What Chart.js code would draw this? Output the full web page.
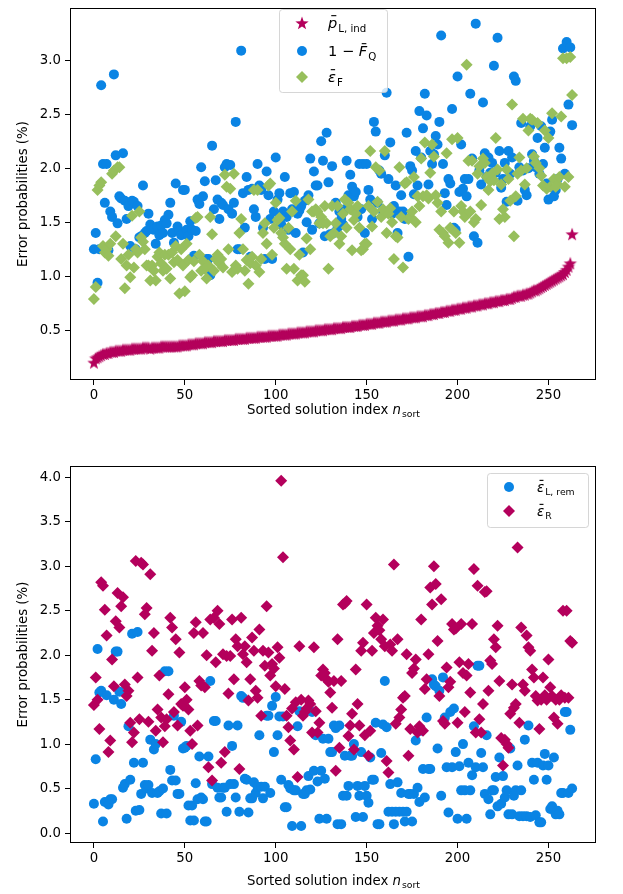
<!DOCTYPE html>
<html>
<head>
<meta charset="utf-8">
<script src="https://cdn.jsdelivr.net/npm/chart.js@4.4.0/dist/chart.umd.min.js"></script>
<style>
  html, body { margin: 0; padding: 0; background: #fff; }
  #wrap { position: relative; width: 623px; height: 894px; }
  canvas { position: absolute; left: 0; }
  #topChart { top: 0; }
  #bottomChart { top: 440px; }
</style>
</head>
<body>
<div id="wrap">
  <canvas id="topChart" width="623" height="430"></canvas>
  <canvas id="bottomChart" width="623" height="454"></canvas>
</div>
<script>
// ---- data ----
const solutionIndex = Array.from({ length: 264 }, (_, i) => i);
const xTicks = [0, 50, 100, 150, 200, 250];
const yTicksTop = [0.5, 1.0, 1.5, 2.0, 2.5, 3.0];
const yTicksBottom = [0.0, 0.5, 1.0, 1.5, 2.0, 2.5, 3.0, 3.5, 4.0];

// sorted p_L,ind
const pLInd = [0.20,
  0.24,0.25,0.26,0.27,0.28,0.28,0.29,0.29,0.30,0.30,
  0.30,0.31,0.31,0.31,0.31,0.32,0.32,0.32,0.32,0.32,
  0.33,0.33,0.33,0.33,0.33,0.33,0.34,0.34,0.34,0.34,
  0.33,0.34,0.34,0.34,0.34,0.34,0.35,0.35,0.35,0.35,
  0.35,0.35,0.35,0.35,0.35,0.35,0.36,0.36,0.36,0.36,
  0.36,0.37,0.37,0.37,0.37,0.38,0.38,0.38,0.38,0.38,
  0.39,0.39,0.39,0.39,0.39,0.40,0.40,0.40,0.40,0.40,
  0.40,0.41,0.41,0.41,0.41,0.41,0.41,0.42,0.42,0.42,
  0.42,0.42,0.42,0.43,0.43,0.43,0.43,0.43,0.43,0.44,
  0.44,0.44,0.44,0.44,0.44,0.45,0.45,0.45,0.45,0.45,
  0.45,0.46,0.46,0.46,0.46,0.46,0.47,0.47,0.47,0.47,
  0.47,0.48,0.48,0.48,0.48,0.48,0.49,0.49,0.49,0.49,
  0.49,0.50,0.50,0.50,0.50,0.50,0.51,0.51,0.51,0.51,
  0.51,0.52,0.52,0.52,0.52,0.52,0.53,0.53,0.53,0.53,
  0.53,0.54,0.54,0.54,0.54,0.55,0.55,0.55,0.55,0.56,
  0.56,0.56,0.56,0.57,0.57,0.57,0.57,0.58,0.58,0.58,
  0.58,0.59,0.59,0.59,0.59,0.60,0.60,0.60,0.60,0.61,
  0.61,0.61,0.61,0.62,0.62,0.62,0.62,0.63,0.63,0.63,
  0.63,0.64,0.64,0.64,0.65,0.65,0.65,0.66,0.66,0.66,
  0.67,0.67,0.67,0.68,0.68,0.68,0.69,0.69,0.69,0.70,
  0.70,0.70,0.71,0.71,0.71,0.72,0.72,0.72,0.73,0.73,
  0.73,0.74,0.74,0.74,0.75,0.75,0.75,0.76,0.76,0.76,
  0.77,0.77,0.77,0.78,0.78,0.78,0.79,0.79,0.79,0.80,
  0.81,0.81,0.82,0.82,0.82,0.83,0.83,0.84,0.84,0.85,
  0.86,0.87,0.87,0.88,0.89,0.90,0.91,0.92,0.93,0.94,
  0.95,0.96,0.97,0.98,0.99,1.00,1.01,1.02,1.04,1.06,
  1.09,1.12,1.39];

// 1 - F_Q
const oneMinusFQ = [
  1.25,1.40,0.94,1.25,2.77,2.04,1.68,2.04,1.24,1.60,
  1.55,2.87,2.12,1.49,1.74,1.72,2.14,1.70,1.53,1.65,
  1.28,1.70,1.69,1.25,1.65,1.36,1.37,1.84,1.40,1.42,
  1.58,1.48,1.44,1.43,1.30,1.46,1.38,1.47,1.40,1.52,
  1.49,1.57,1.68,1.40,1.31,1.86,1.46,1.42,1.38,1.80,
  1.80,1.43,1.37,1.51,1.43,1.19,1.42,1.71,1.67,2.01,
  1.74,1.88,1.16,1.16,1.01,2.21,1.62,1.89,1.71,1.53,
  1.68,1.66,2.01,2.04,1.62,2.03,1.58,1.68,2.43,1.25,
  1.25,3.09,1.77,1.45,1.92,1.80,1.18,1.81,1.62,1.55,
  2.04,1.84,1.80,1.45,1.16,1.97,1.75,1.53,1.16,1.60,
  2.10,1.71,1.77,1.48,1.60,1.92,1.55,1.43,1.77,1.62,
  1.78,1.40,1.58,1.61,1.65,1.22,1.70,1.50,1.75,2.09,
  1.43,1.97,1.84,1.84,1.49,2.25,2.07,1.37,2.33,1.87,
  1.39,2.02,1.40,1.68,1.45,1.60,1.53,1.48,1.62,2.07,
  1.75,1.94,1.83,1.74,1.78,1.55,2.04,1.62,2.04,1.40,
  2.04,1.80,1.71,1.53,2.43,2.34,1.68,1.98,1.95,1.60,
  2.12,2.70,1.90,2.24,1.58,1.65,1.84,1.40,1.60,1.75,
  1.60,1.53,2.33,1.18,2.02,1.98,1.76,2.16,1.84,2.53,
  2.10,2.37,2.69,2.49,1.85,2.16,2.04,2.13,2.30,2.22,
  2.43,3.23,2.04,1.77,1.66,1.90,1.86,2.55,1.45,1.43,
  2.85,1.78,2.22,1.81,1.90,1.74,1.90,2.69,2.09,1.37,
  3.34,1.31,1.98,1.85,2.61,2.14,1.92,2.10,1.96,2.05,
  2.95,1.96,3.21,2.16,1.82,1.90,2.05,1.69,2.16,1.95,
  2.10,2.85,2.81,1.70,2.01,2.42,1.98,1.80,1.75,2.00,
  2.39,2.13,2.07,2.01,2.28,1.95,2.39,2.04,2.19,1.86,
  1.71,2.34,2.45,1.74,1.80,1.90,2.19,2.09,3.11,1.95,
  3.17,2.59,3.12,2.40];

// eps_F
const epsF = [
  0.79,0.90,1.80,1.84,1.87,1.28,1.22,1.25,1.19,1.30,
  1.95,1.98,1.37,2.01,2.01,1.16,1.30,0.89,1.10,1.20,
  0.99,1.56,1.08,1.25,1.22,1.60,1.36,1.32,1.25,1.10,
  1.10,0.96,1.10,1.05,0.96,1.18,1.22,1.12,1.05,1.20,
  1.07,1.20,0.98,1.22,1.13,1.28,1.15,0.84,1.25,1.10,
  0.86,1.30,1.15,0.99,1.01,1.14,1.54,1.55,1.20,1.05,
  1.14,1.07,0.98,1.10,1.55,1.39,1.05,1.16,1.20,1.12,
  1.16,1.08,1.94,1.83,1.25,1.81,1.04,1.95,1.10,1.07,
  1.40,1.53,1.25,1.05,1.15,0.93,1.12,1.18,1.80,1.10,
  1.80,1.04,1.16,1.40,1.49,1.30,1.84,1.86,1.20,1.45,
  1.68,1.52,1.54,1.40,1.36,1.30,1.07,1.45,1.25,1.60,
  1.07,1.70,0.96,1.20,1.01,1.01,0.95,1.35,1.71,1.25,
  1.60,1.60,1.62,1.60,1.49,1.55,1.49,1.65,1.49,1.07,
  1.37,1.65,1.40,1.49,1.65,1.30,1.37,1.58,1.71,1.45,
  1.68,1.62,1.24,1.52,1.58,1.65,1.45,1.24,1.25,1.30,
  1.30,1.65,2.16,1.46,1.60,2.01,1.69,1.98,1.55,1.62,
  2.16,1.40,1.58,1.63,1.50,1.16,1.37,1.36,2.01,1.55,
  1.08,1.86,1.87,1.53,1.55,1.60,1.92,1.50,1.74,1.65,
  2.09,1.74,2.24,1.75,1.72,1.96,2.22,2.11,1.75,1.68,
  1.43,1.60,1.40,1.37,2.14,1.31,1.45,2.27,1.60,1.40,
  2.28,1.31,1.65,1.60,1.55,2.96,2.07,1.60,2.07,1.50,
  1.53,1.95,2.02,1.66,2.09,2.05,1.92,1.80,1.88,1.95,
  1.89,2.28,1.99,1.53,1.85,1.62,1.55,1.99,1.90,1.70,
  2.59,1.37,1.74,1.95,2.10,1.98,2.46,1.85,2.00,2.35,
  2.46,2.45,2.11,2.05,2.42,2.00,1.93,1.84,2.35,1.81,
  2.28,1.83,2.51,1.90,1.83,1.85,1.92,2.48,3.02,1.83,
  3.02,1.92,3.03,2.68];

// eps_L,rem
const epsLRem = [
  0.33,0.83,2.07,1.58,1.60,0.13,0.35,1.55,0.32,0.38,
  0.38,1.50,2.04,2.04,1.59,1.45,0.51,0.55,0.16,1.20,
  0.60,2.24,0.79,0.25,2.26,0.26,0.44,0.79,0.54,0.50,
  0.54,1.05,0.45,0.94,1.00,0.45,0.47,0.22,0.50,1.82,
  0.22,1.82,0.71,0.59,1.32,0.59,0.44,0.44,1.25,0.95,
  0.96,0.98,0.31,0.14,0.31,0.14,0.56,0.38,0.86,0.40,
  0.38,0.13,0.13,0.86,1.71,0.55,1.26,1.26,0.51,0.40,
  0.40,0.51,
  0.51,0.24,1.21,0.55,0.98,0.55,0.40,1.21,0.24,1.54,
  1.52,0.61,0.60,0.23,0.39,0.39,0.57,0.45,0.52,1.10,
  0.52,0.39,
  0.52,1.32,1.32,0.45,1.43,0.91,1.53,1.10,1.31,0.60,
  1.31,0.29,0.29,0.54,0.50,0.08,0.48,0.48,1.20,1.37,
  0.08,0.44,0.44,0.48,0.64,0.49,1.36,0.70,1.10,0.58,
  0.16,0.70,1.06,0.61,0.16,1.06,0.91,0.91,1.21,1.18,
  0.10,1.21,0.10,0.42,0.87,0.42,0.53,0.87,0.87,1.00,
  0.18,0.53,0.42,0.91,0.18,0.53,0.42,0.34,0.85,0.60,
  0.60,1.24,0.10,0.10,0.90,1.22,1.71,1.19,0.24,0.55,
  0.24,0.10,0.24,0.57,0.24,0.45,0.24,0.13,0.24,0.44,
  0.44,0.13,0.44,1.04,0.51,0.35,1.15,0.72,0.40,1.30,
  0.72,0.72,1.73,1.67,1.65,0.95,1.60,0.42,1.75,1.30,
  0.74,0.23,1.36,0.74,1.40,0.91,0.16,0.75,0.48,1.00,
  0.48,0.16,0.79,0.48,0.65,1.20,0.74,1.88,1.88,0.90,
  0.74,0.44,1.10,0.38,0.21,0.48,0.48,0.63,0.30,0.85,
  0.33,0.64,0.40,0.48,0.21,0.95,0.21,0.42,0.48,0.76,
  0.19,0.48,0.19,1.05,0.19,1.21,0.18,0.79,0.60,0.20,
  0.79,0.12,0.12,0.76,0.89,0.60,0.76,0.27,0.30,0.85,
  0.21,0.25,0.21,0.45,0.45,1.36,
  1.36,0.45,1.16,0.50];

// eps_R
const epsR = [
  1.44,1.75,1.50,1.17,2.82,2.78,2.51,2.22,0.91,1.04,
  1.95,1.65,2.38,2.70,2.31,2.55,2.65,1.67,1.54,1.60,
  1.24,1.02,1.13,3.06,1.75,1.28,3.04,3.02,2.46,2.53,
  1.25,2.91,2.05,2.25,1.15,1.39,1.77,1.30,1.02,1.20,
  1.28,1.56,2.42,2.31,1.36,2.18,1.21,2.03,1.45,1.43,
  1.64,1.50,1.39,1.15,1.00,2.25,2.37,1.21,1.71,1.66,
  2.25,1.64,2.00,0.74,2.40,0.59,2.42,1.92,2.50,2.35,
  0.79,2.01,0.91,1.99,1.57,1.99,2.40,1.73,2.18,2.10,
  0.72,2.42,2.01,2.10,1.92,1.49,1.73,2.20,2.05,1.60,
  1.52,2.29,1.32,2.05,1.88,2.55,2.03,1.77,1.90,1.85,
  1.65,2.09,1.97,3.96,3.10,1.62,1.32,1.19,1.04,1.40,
  0.94,1.47,0.63,2.10,1.50,1.32,1.36,1.40,1.49,1.45,
  1.13,2.09,1.37,1.13,1.24,1.77,1.84,1.80,1.73,1.70,
  1.58,1.41,1.71,0.70,2.18,0.96,1.71,2.57,2.58,2.61,
  1.09,1.21,1.34,0.94,1.84,1.45,1.21,2.05,2.14,1.10,
  2.57,0.87,1.15,2.05,2.25,2.42,2.33,2.28,2.18,2.40,
  2.10,0.81,0.68,2.12,2.05,3.02,1.23,2.18,1.30,1.39,
  1.52,1.54,2.01,0.87,1.17,1.80,1.85,1.95,1.13,1.20,
  2.40,1.15,1.62,1.73,2.01,2.76,2.57,3.00,2.80,2.16,
  1.54,2.63,1.26,1.23,1.86,1.64,1.70,2.35,2.29,2.30,
  1.24,1.92,2.35,1.80,1.36,1.77,1.90,1.58,2.35,2.97,
  1.13,2.78,1.28,1.13,1.45,2.71,2.72,1.60,1.94,1.90,
  2.18,2.09,2.33,1.71,1.07,0.76,1.05,1.00,0.96,1.34,
  1.67,1.41,1.45,3.21,1.24,2.31,1.67,1.60,2.22,2.09,
  2.05,1.84,1.75,1.54,1.49,1.17,1.50,1.75,1.55,1.50,
  1.95,1.64,1.54,1.30,1.50,1.23,1.50,1.55,2.50,1.52,
  2.50,1.52,2.16,2.14];

// ---- style ----
const FONT = 'DejaVu Sans';
const FS = 13.3;
const PINK = '#b4005c';
const BLUE = '#0a84e4';
const GREEN = '#97bf5c';
const R_DOT = 5;
const R_DIA = 6;
const R_STAR = 7;

Chart.defaults.font.family = FONT;
Chart.defaults.font.size = FS;
Chart.defaults.color = '#000';

function makeStar(color, r) {
  const c = document.createElement('canvas');
  const s = Math.ceil(r * 2) + 2;
  c.width = c.height = s;
  const g = c.getContext('2d');
  g.fillStyle = color;
  g.beginPath();
  for (let k = 0; k < 10; k++) {
    const rad = k % 2 ? r * 0.4 : r;
    const a = -Math.PI / 2 + k * Math.PI / 5;
    g.lineTo(s / 2 + rad * Math.cos(a), s / 2 + 0.6 + rad * Math.sin(a));
  }
  g.closePath();
  g.fill();
  return c;
}
const starImg = makeStar(PINK, R_STAR);

function pts(vals) {
  return vals.map((v, i) => ({ x: solutionIndex[i], y: v }));
}

// draw a row of text pieces (italic, subscript, overbar)
function runFont(r, size) {
  const s = r.sub ? size * 0.7 : size;
  return (r.it ? 'italic ' : '') + s + 'px "' + FONT + '"';
}
function drawRuns(ctx, runs, x, y, size, align) {
  let total = 0;
  runs.forEach(r => { ctx.font = runFont(r, size); r.w = ctx.measureText(r.t).width; total += r.w; });
  let cx = align === 'center' ? x - total / 2 : x;
  ctx.textAlign = 'left';
  ctx.textBaseline = 'alphabetic';
  runs.forEach(r => {
    ctx.font = runFont(r, size);
    const dy = r.sub ? size * 0.24 : 0;
    ctx.fillText(r.t, cx + (r.sub ? 1 : 0), y + dy);
    if (r.bar) {
      ctx.fillRect(cx + r.w * 0.35, y - size * 0.9, r.w * 0.55, 1.1);
    }
    cx += r.w + (r.sub ? 1 : 0);
  });
}

function drawMarker(ctx, kind, color, x, y) {
  ctx.fillStyle = color;
  if (kind === 'star') {
    ctx.drawImage(starImg, x - starImg.width / 2, y - starImg.height / 2);
  } else if (kind === 'circle') {
    ctx.beginPath(); ctx.arc(x, y, R_DOT, 0, 2 * Math.PI); ctx.fill();
  } else {
    ctx.beginPath();
    ctx.moveTo(x - R_DIA, y); ctx.lineTo(x, y - R_DIA);
    ctx.lineTo(x + R_DIA, y); ctx.lineTo(x, y + R_DIA);
    ctx.closePath(); ctx.fill();
  }
}

function roundRect(ctx, x, y, w, h, r) {
  ctx.beginPath();
  ctx.moveTo(x + r, y);
  ctx.arcTo(x + w, y, x + w, y + h, r);
  ctx.arcTo(x + w, y + h, x, y + h, r);
  ctx.arcTo(x, y + h, x, y, r);
  ctx.arcTo(x, y, x + w, y, r);
  ctx.closePath();
}

const xTitleRuns = [{ t: 'Sorted solution index ' }, { t: 'n', it: true }, { t: 'sort', sub: true }];

// frame, legend and axis titles
const decor = {
  id: 'decor',
  afterDatasetsDraw(chart, args, o) {
    const ctx = chart.ctx, a = chart.chartArea;
    ctx.save();
    ctx.strokeStyle = '#000';
    ctx.lineWidth = 1;
    ctx.strokeRect(a.left + 0.5, a.top + 0.5, a.right - a.left - 1, a.bottom - a.top - 1);

    const [bx, by, bw, bh] = o.box;
    ctx.globalAlpha = 0.8;
    roundRect(ctx, bx + 0.5, by + 0.5, bw, bh, 3);
    ctx.fillStyle = '#fff';
    ctx.fill();
    ctx.strokeStyle = '#ccc';
    ctx.stroke();
    ctx.globalAlpha = 1;
    o.rows.forEach(r => {
      drawMarker(ctx, r.marker, r.color, o.markerX, r.y);
      ctx.fillStyle = '#000';
      drawRuns(ctx, r.runs, o.textX, r.y + o.fs * 0.36, o.fs, 'left');
    });

    ctx.fillStyle = '#000';
    drawRuns(ctx, xTitleRuns, (a.left + a.right) / 2, o.xTitleY, FS, 'center');
    ctx.translate(o.yTitleX, (a.top + a.bottom) / 2);
    ctx.rotate(-Math.PI / 2);
    drawRuns(ctx, [{ t: 'Error probabilities (%)' }], 0, FS * 0.36, FS, 'center');
    ctx.restore();
  }
};

function scales(yMin, yMax, yTicks, xH) {
  return {
    x: {
      type: 'linear', min: -13.15, max: 276.15,
      afterBuildTicks: s => { s.ticks = xTicks.map(v => ({ value: v })); },
      afterFit: s => { s.height = xH; s.paddingLeft = 0; s.paddingRight = 0; },
      grid: { drawOnChartArea: false, drawTicks: true, tickLength: 5, color: '#000' },
      border: { display: false },
      ticks: { padding: 3, maxRotation: 0, autoSkip: false, callback: v => String(v) }
    },
    y: {
      type: 'linear', min: yMin, max: yMax,
      afterBuildTicks: s => { s.ticks = yTicks.map(v => ({ value: v })); },
      afterFit: s => { s.width = 70; s.paddingTop = 0; s.paddingBottom = 0; },
      grid: { drawOnChartArea: false, drawTicks: true, tickLength: 5, color: '#000' },
      border: { display: false },
      ticks: { padding: 4, autoSkip: false, callback: v => v.toFixed(1) }
    }
  };
}

const common = { responsive: false, animation: false, events: [] };

new Chart(document.getElementById('topChart'), {
  type: 'scatter',
  data: {
    datasets: [
      { label: 'p_L,ind', data: pts(pLInd), pointStyle: starImg, pointRadius: R_STAR, order: 3 },
      { label: '1-F_Q', data: pts(oneMinusFQ), pointStyle: 'circle', pointRadius: R_DOT,
        backgroundColor: BLUE, borderWidth: 0, order: 2 },
      { label: 'eps_F', data: pts(epsF), pointStyle: 'rectRot', pointRadius: R_DIA,
        backgroundColor: GREEN, borderWidth: 0, order: 1 }
    ]
  },
  options: {
    ...common,
    layout: { padding: { top: 1, right: 27, bottom: 0, left: 0 } },
    scales: scales(0.039, 3.485, yTicksTop, 50),
    plugins: {
      legend: { display: false },
      tooltip: { enabled: false },
      decor: {
        box: [279, 9, 108, 83], markerX: 302, textX: 328, fs: 14.6,
        xTitleY: 414, yTitleX: 22,
        rows: [
          { marker: 'star', color: PINK, y: 23,
            runs: [{ t: 'p', it: true, bar: true }, { t: 'L, ind', sub: true }] },
          { marker: 'circle', color: BLUE, y: 51,
            runs: [{ t: '1 \u2212 ' }, { t: 'F', it: true, bar: true }, { t: 'Q', sub: true }] },
          { marker: 'diamond', color: GREEN, y: 77,
            runs: [{ t: '\u03b5', it: true, bar: true }, { t: 'F', sub: true }] }
        ]
      }
    }
  },
  plugins: [decor]
});

new Chart(document.getElementById('bottomChart'), {
  type: 'scatter',
  data: {
    datasets: [
      { label: 'eps_L,rem', data: pts(epsLRem), pointStyle: 'circle', pointRadius: R_DOT,
        backgroundColor: BLUE, borderWidth: 0, order: 2 },
      { label: 'eps_R', data: pts(epsR), pointStyle: 'rectRot', pointRadius: R_DIA,
        backgroundColor: PINK, borderWidth: 0, order: 1 }
    ]
  },
  options: {
    ...common,
    layout: { padding: { top: 26, right: 27, bottom: 0, left: 0 } },
    scales: scales(-0.112, 4.127, yTicksBottom, 51),
    plugins: {
      legend: { display: false },
      tooltip: { enabled: false },
      decor: {
        box: [487, 33, 101, 54], markerX: 509, textX: 537, fs: FS,
        xTitleY: 445, yTitleX: 22,
        rows: [
          { marker: 'circle', color: BLUE, y: 47,
            runs: [{ t: '\u03b5', it: true, bar: true }, { t: 'L, rem', sub: true }] },
          { marker: 'diamond', color: PINK, y: 71,
            runs: [{ t: '\u03b5', it: true, bar: true }, { t: 'R', sub: true }] }
        ]
      }
    }
  },
  plugins: [decor]
});
</script>
</body>
</html>
